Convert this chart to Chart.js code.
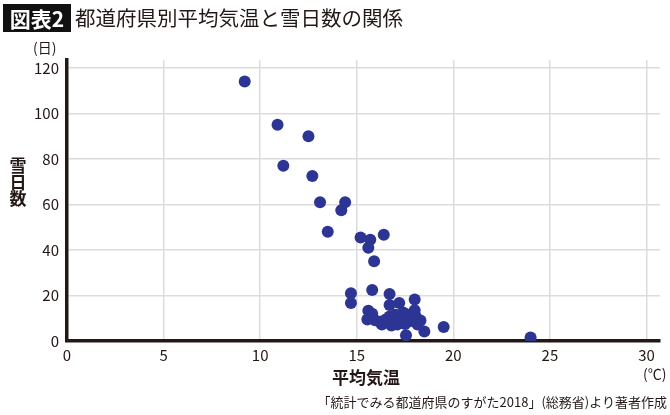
<!DOCTYPE html>
<html lang="ja">
<head>
    <meta charset="UTF-8">
    <title>都道府県別平均気温と雪日数の関係</title>
    <script src="https://cdn.jsdelivr.net/npm/chart.js"></script>
    <style>
        body { margin: 0; width: 670px; height: 415px; background: #fff; position: relative; overflow: hidden;
               font-family: "Noto Sans CJK JP", "Noto Sans", sans-serif; color: #231815; }
        .txt { position: absolute; white-space: nowrap; line-height: 1; }
        #badge { left: 3px; top: 4px; width: 68px; height: 28px; background: #111; color: #fff;
                 font-size: 21px; font-weight: bold; text-align: center; line-height: 28px; }
        #chart { position: absolute; left: 0; top: 0; }
    </style>
</head>
<body>
    <canvas id="chart" width="670" height="415"></canvas>
    <div id="badge" class="txt">図表2</div>
    <div class="txt" style="left:75px; top:7px; font-size:20.5px;">都道府県別平均気温と雪日数の関係</div>
    <div class="txt" style="left:33px; top:40px; font-size:14px;">(日)</div>
    <div class="txt" style="left:9px; top:157px; font-size:17px; font-weight:bold; line-height:16.5px; width:18px; text-align:center;">雪<br>日<br>数</div>
    <div class="txt" style="left:332px; top:368px; font-size:17px; font-weight:bold;">平均気温</div>
    <div class="txt" style="left:643px; top:366px; font-size:14px;">(℃)</div>
    <div class="txt" style="right:3px; top:395px; font-size:13px;">「統計でみる都道府県のすがた2018」(総務省)より著者作成</div>
    <script>
        // average temperature (°C) and days of snow per prefecture
        const temps = [9.2, 10.9, 12.5, 11.2, 12.7, 13.1, 14.4, 14.2, 13.5, 15.2,
                       15.7, 16.4, 15.6, 15.9, 14.7, 14.7, 15.8, 16.7, 18.0, 17.2,
                       16.7, 15.6, 18.0, 17.6, 15.55, 15.95, 16.3, 16.7, 16.9, 17.3,
                       17.7, 18.05, 18.15, 17.55, 18.5, 19.5, 24.0, 17.1, 16.5, 17.0,
                       17.4, 16.2, 17.9, 16.8, 17.5, 15.8, 18.3];
        const snowDays = [114, 95, 90, 77, 72.5, 61, 61, 57.5, 48, 45.5,
                          44.5, 46.7, 41, 35, 21, 16.7, 22.4, 20.7, 18.2, 16.7,
                          15.8, 13.3, 13.5, 11.6, 9.4, 9.1, 7.2, 10.8, 8.6, 9.4,
                          8.6, 10.8, 7.2, 2.5, 4.2, 6.2, 1.5, 7.2, 9.5, 11.5,
                          12.5, 8.5, 9.5, 6.8, 7.5, 12, 9];
        const xTicks = [0, 5, 10, 15, 20, 25, 30];
        const yTicks = [0, 20, 40, 60, 80, 100, 120];

        const points = temps.map((t, i) => ({ x: t, y: snowDays[i] }));
        const ink = "#231815";

        new Chart(document.getElementById("chart").getContext("2d"), {
            type: "scatter",
            data: {
                datasets: [{
                    data: points,
                    backgroundColor: "#2d3594",
                    borderColor: "#2d3594",
                    borderWidth: 0,
                    pointRadius: 6
                }]
            },
            options: {
                responsive: false,
                animation: false,
                layout: { padding: { top: 60, right: 10, left: 0, bottom: 0 } },
                plugins: { legend: { display: false }, tooltip: { enabled: false } },
                scales: {
                    x: {
                        type: "linear",
                        min: 0,
                        max: 30.7,
                        afterBuildTicks: s => { s.ticks = xTicks.map(v => ({ value: v })); },
                        afterFit: s => { s.height = 74; },
                        grid: { color: "#dcdcdc", lineWidth: 1.5, drawTicks: false },
                        border: { color: ink, width: 3.5 },
                        ticks: { color: ink, padding: 5, font: { family: "Noto Sans CJK JP", size: 15 } }
                    },
                    y: {
                        type: "linear",
                        min: 0,
                        max: 123.5,
                        afterBuildTicks: s => { s.ticks = yTicks.map(v => ({ value: v })); },
                        afterFit: s => { s.width = 67; },
                        grid: { color: "#dcdcdc", lineWidth: 1.5, drawTicks: false },
                        border: { color: ink, width: 3.5 },
                        ticks: { color: ink, padding: 8, font: { family: "Noto Sans CJK JP", size: 15 } }
                    }
                }
            }
        });
    </script>
</body>
</html>
